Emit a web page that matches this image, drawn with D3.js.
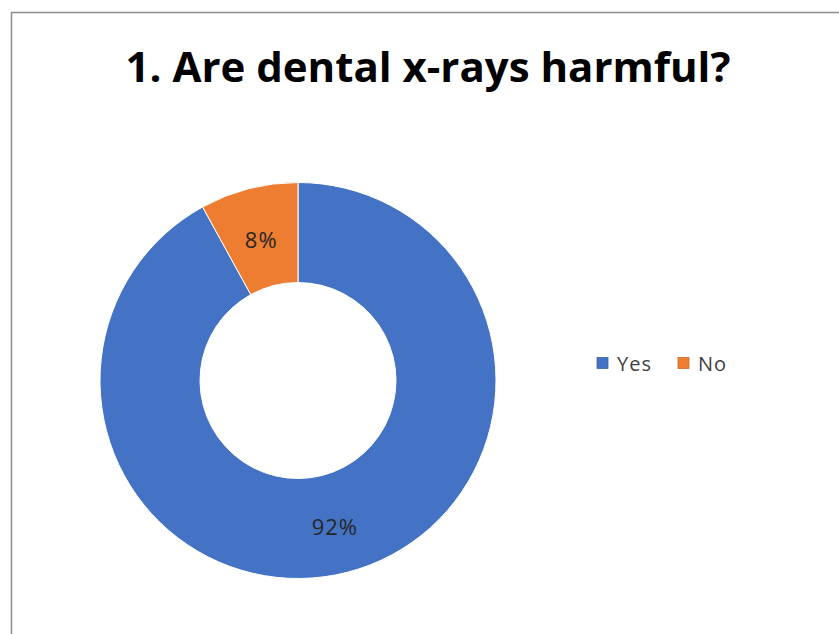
<!DOCTYPE html>
<html>
<head>
<meta charset="utf-8">
<script src="https://cdn.jsdelivr.net/npm/d3@7"></script>
<style>
html,body{margin:0;padding:0;background:#fff;}
svg{display:block;}
</style>
</head>
<body>
<svg id="chart" width="839" height="634"></svg>
<script>
const categories = ["Yes", "No"];
const values = [92, 8];
const labels = ["92%", "8%"];
const colors = ["#4472C4", "#ED7D31"];
const title = "1. Are dental x-rays harmful?";

const svg = d3.select("#chart");
// chart border (extends beyond viewport right/bottom)
svg.append("rect").attr("x", 11.5).attr("y", 12.5).attr("width", 900).attr("height", 700)
  .attr("fill", "#fff").attr("stroke", "#8c8c8c").attr("stroke-width", 1.5);

svg.append("text").attr("x", 428).attr("y", 82).attr("text-anchor", "middle")
  .attr("font-family", "'Open Sans', sans-serif").attr("font-weight", "bold")
  .attr("font-size", 42).attr("fill", "#000").text(title);

const cx = 298, cy = 380.5, R = 198, r = 98;
const pie = d3.pie().sort(null).value(d => d.v);
const data = pie(categories.map((c, i) => ({c, v: values[i], l: labels[i], col: colors[i]})));
const arc = d3.arc().innerRadius(r).outerRadius(R);
const g = svg.append("g").attr("transform", `translate(${cx},${cy})`);
g.selectAll("path").data(data).join("path").attr("d", arc)
  .attr("fill", d => d.data.col).attr("stroke", "#fff").attr("stroke-width", 1);
g.selectAll("text").data(data).join("text")
  .attr("transform", d => { const c = arc.centroid(d); return `translate(${c[0]},${c[1] + 3.5})`; })
  .attr("text-anchor", "middle").attr("dy", "0.35em")
  .attr("font-family", "'Open Sans', sans-serif").attr("font-size", 22)
  .attr("letter-spacing", 1)
  .attr("fill", "#262626").text(d => d.data.l);

// legend
const lg = svg.append("g");
const legX = [597, 678];
categories.forEach((c, i) => {
  lg.append("rect").attr("x", legX[i]).attr("y", 357.5).attr("width", 11).attr("height", 11)
    .attr("fill", colors[i]).attr("stroke", d3.color(colors[i]).darker(0.4)).attr("stroke-width", 0.8);
  lg.append("text").attr("x", legX[i] + 20).attr("y", 371)
    .attr("font-family", "'Open Sans', sans-serif").attr("font-size", 20)
    .attr("letter-spacing", 1)
    .attr("fill", "#404040").text(c);
});
</script>
</body>
</html>
